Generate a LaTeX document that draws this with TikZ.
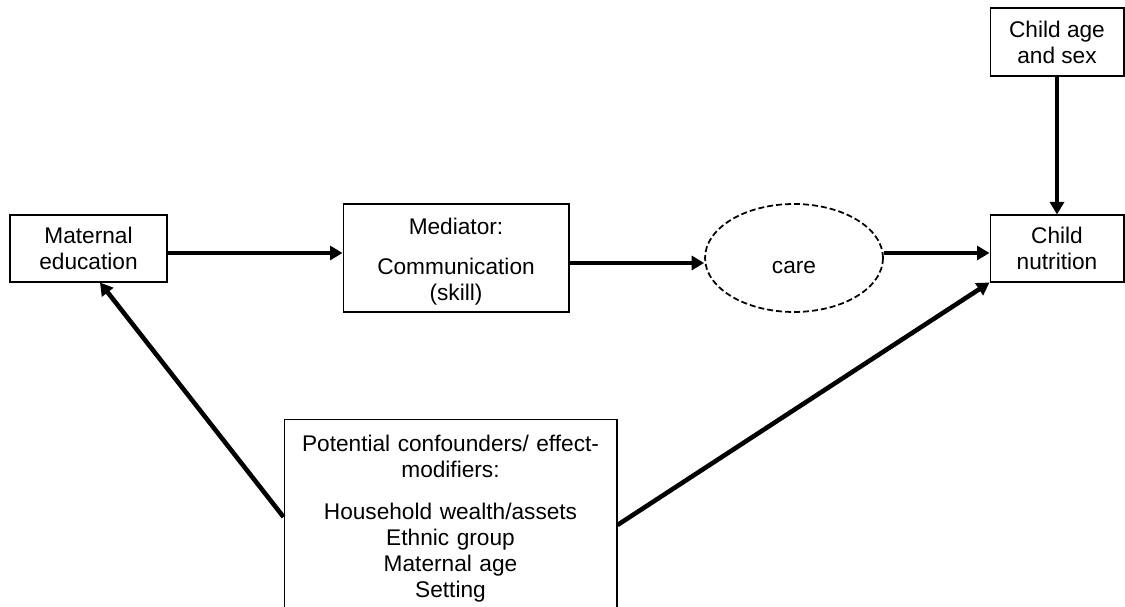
\documentclass[tikz,border=0pt]{standalone}
\usepackage{fontspec}
\setmainfont{Liberation Sans}
\usetikzlibrary{arrows.meta,shapes.geometric,calc}

\begin{document}
\begin{tikzpicture}[x=0.02cm,y=0.02cm,
  every node/.style={font=\fontsize{12.9}{14.8}\selectfont, align=center},
  box/.style={draw, line width=0.6pt, inner sep=0pt},
  dashedell/.style={draw, ellipse, line width=1pt, dash pattern=on 0.12cm off 0.06cm, inner sep=0pt},
  arr/.style={line width=2.6pt, -{Triangle[length=0.25cm,width=0.28cm]}}
]
\clip (0,0) rectangle (1125,607);

% boxes
\node[box, minimum width=3.14cm, minimum height=1.34cm] (mat) at (88.5,358.5) {Maternal\\education};
\node[box, minimum width=4.52cm, minimum height=2.16cm] (med) at (456,349)
  {\rule{0pt}{13.4pt}Mediator:\\[8.4pt]Communication\\(skill)};
\node[dashedell, minimum width=3.56cm, minimum height=2.16cm] (care) at (794,349) {\rule{0pt}{17.5pt}care};
\node[box, minimum width=2.68cm, minimum height=1.34cm] (nut) at (1057,358.5) {Child\\nutrition};
\node[box, minimum width=2.68cm, minimum height=1.36cm] (age) at (1057,565) {Child age\\and sex};
\node[box, anchor=north, text width=6.0cm, inner xsep=0.33cm, inner ysep=0.31cm] (conf) at (450.5,188)
  {Potential confounders/ effect-\\modifiers:\\[9pt]Household wealth/assets\\Ethnic group\\Maternal age\\Setting};

% connectors
\coordinate (a1) at ($(mat.east)+(0,-4.5)$);
\draw[arr] (a1) -- (a1 -| med.west);
\coordinate (a2) at ($(med.east)+(0,-5)$);
\draw[arr] (a2) -- (a2 -| care.west);
\coordinate (a3) at ($(care.east)+(0,5)$);
\draw[arr] (a3) -- (a3 -| nut.west);
\draw[arr] (age.south) -- (nut.north);
\draw[arr] ($(conf.north west)+(0,-98)$) -- ($(mat.south)+(11.5,0)$);
\draw[arr] ($(conf.north east)+(0,-106)$) -- (nut.south west);
\end{tikzpicture}
\end{document}
